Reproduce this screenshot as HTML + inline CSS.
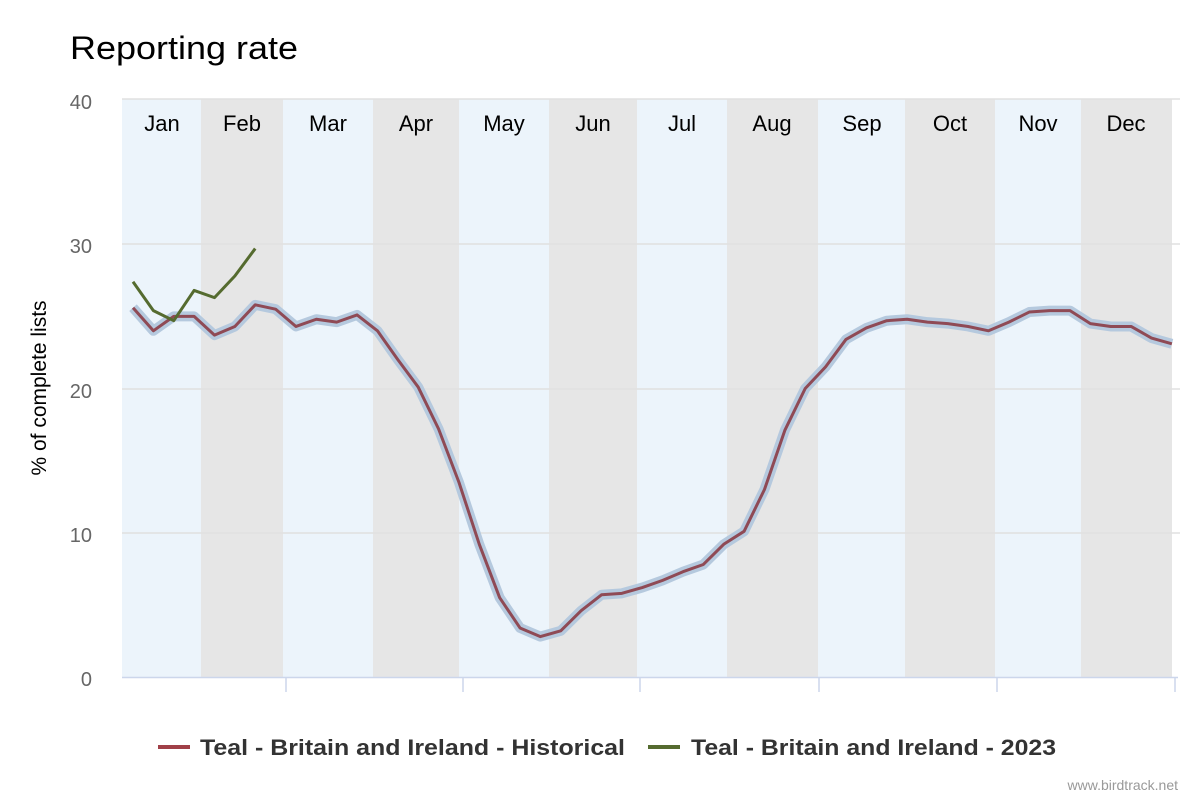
<!DOCTYPE html>
<html><head><meta charset="utf-8"><style>
body{margin:0;background:#fff;}
svg{display:block;font-family:"Liberation Sans",Arial,sans-serif;}
</style></head><body>
<svg width="1200" height="800" viewBox="0 0 1200 800">
<rect width="1200" height="800" fill="#fff"/>
<text x="70" y="59" font-size="32" fill="#000" textLength="228" lengthAdjust="spacingAndGlyphs">Reporting rate</text>
<g>
<rect x="122" y="99" width="79" height="578" fill="#ecf4fb"/>
<rect x="201" y="99" width="82" height="578" fill="#e6e6e6"/>
<rect x="283" y="99" width="90" height="578" fill="#ecf4fb"/>
<rect x="373" y="99" width="86" height="578" fill="#e6e6e6"/>
<rect x="459" y="99" width="90" height="578" fill="#ecf4fb"/>
<rect x="549" y="99" width="88" height="578" fill="#e6e6e6"/>
<rect x="637" y="99" width="90" height="578" fill="#ecf4fb"/>
<rect x="727" y="99" width="91" height="578" fill="#e6e6e6"/>
<rect x="818" y="99" width="87" height="578" fill="#ecf4fb"/>
<rect x="905" y="99" width="90" height="578" fill="#e6e6e6"/>
<rect x="995" y="99" width="86" height="578" fill="#ecf4fb"/>
<rect x="1081" y="99" width="91" height="578" fill="#e6e6e6"/>
</g>
<g stroke="#e0e0e0" stroke-width="1.5">
<line x1="122" x2="1180" y1="99" y2="99"/>
<line x1="122" x2="1180" y1="244" y2="244"/>
<line x1="122" x2="1180" y1="389" y2="389"/>
<line x1="122" x2="1180" y1="533" y2="533"/>
</g>
<line x1="122" x2="1178" y1="677.5" y2="677.5" stroke="#ccd6eb" stroke-width="1.5"/>
<g stroke="#ccd6eb" stroke-width="1.5">
<line x1="286" x2="286" y1="677" y2="692"/><line x1="463" x2="463" y1="677" y2="692"/>
<line x1="640" x2="640" y1="677" y2="692"/><line x1="819" x2="819" y1="677" y2="692"/>
<line x1="997" x2="997" y1="677" y2="692"/><line x1="1175" x2="1175" y1="677" y2="692"/>
</g>
<g font-size="20" fill="#666" text-anchor="end">
<text x="92" y="109">40</text><text x="92" y="253">30</text><text x="92" y="398">20</text><text x="92" y="542">10</text><text x="92" y="686">0</text>
</g>
<text transform="translate(46,388) rotate(-90)" font-size="21" text-anchor="middle" fill="#000">% of complete lists</text>
<g font-size="22" fill="#000" text-anchor="middle">
<text x="162" y="131">Jan</text><text x="242" y="131">Feb</text><text x="328" y="131">Mar</text><text x="416" y="131">Apr</text>
<text x="504" y="131">May</text><text x="593" y="131">Jun</text><text x="682" y="131">Jul</text><text x="772" y="131">Aug</text>
<text x="862" y="131">Sep</text><text x="950" y="131">Oct</text><text x="1038" y="131">Nov</text><text x="1126" y="131">Dec</text>
</g>
<g transform="translate(133,677) scale(20.37,-14.425)" fill="none" stroke-linejoin="round">
<polyline vector-effect="non-scaling-stroke" stroke="#b5c9de" stroke-width="10" points="0,25.6 1,24.0 2,25.0 3,25.0 4,23.7 5,24.3 6,25.8 7,25.5 8,24.3 9,24.8 10,24.6 11,25.1 12,24.0 13,22.0 14,20.1 15,17.2 16,13.5 17,9.2 18,5.5 19,3.4 20,2.8 21,3.2 22,4.6 23,5.7 24,5.8 25,6.2 26,6.7 27,7.3 28,7.8 29,9.2 30,10.1 31,13.0 32,17.1 33,20.0 34,21.5 35,23.4 36,24.2 37,24.7 38,24.8 39,24.6 40,24.5 41,24.3 42,24.0 43,24.6 44,25.3 45,25.4 46,25.4 47,24.5 48,24.3 49,24.3 50,23.5 51,23.1"/>
<polyline vector-effect="non-scaling-stroke" stroke="#8f4a55" stroke-width="3" points="0,25.6 1,24.0 2,25.0 3,25.0 4,23.7 5,24.3 6,25.8 7,25.5 8,24.3 9,24.8 10,24.6 11,25.1 12,24.0 13,22.0 14,20.1 15,17.2 16,13.5 17,9.2 18,5.5 19,3.4 20,2.8 21,3.2 22,4.6 23,5.7 24,5.8 25,6.2 26,6.7 27,7.3 28,7.8 29,9.2 30,10.1 31,13.0 32,17.1 33,20.0 34,21.5 35,23.4 36,24.2 37,24.7 38,24.8 39,24.6 40,24.5 41,24.3 42,24.0 43,24.6 44,25.3 45,25.4 46,25.4 47,24.5 48,24.3 49,24.3 50,23.5 51,23.1"/>
<polyline vector-effect="non-scaling-stroke" stroke="#556b2f" stroke-width="3" points="0,27.4 1,25.4 2,24.7 3,26.8 4,26.3 5,27.8 6,29.7"/>
</g>
<g font-size="22" font-weight="bold" fill="#333">
<line x1="158" x2="190" y1="747" y2="747" stroke="#a04048" stroke-width="4"/>
<text x="200" y="755" textLength="425" lengthAdjust="spacingAndGlyphs">Teal - Britain and Ireland - Historical</text>
<line x1="648" x2="680" y1="747" y2="747" stroke="#556b2f" stroke-width="4"/>
<text x="691" y="755" textLength="365" lengthAdjust="spacingAndGlyphs">Teal - Britain and Ireland - 2023</text>
</g>
<text x="1178" y="790" font-size="14" fill="#999" text-anchor="end">www.birdtrack.net</text>
</svg>
</body></html>
